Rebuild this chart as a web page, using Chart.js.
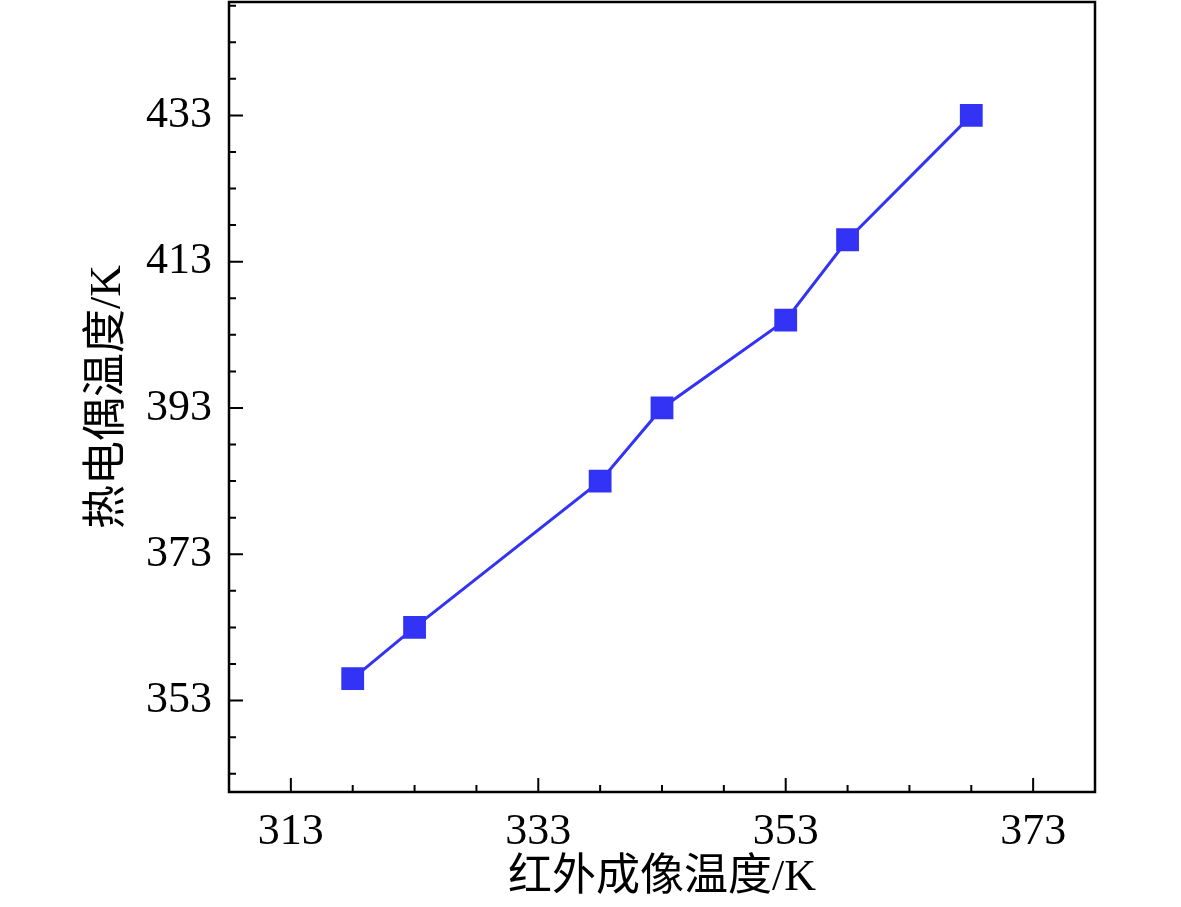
<!DOCTYPE html>
<html>
<head>
<meta charset="utf-8">
<script src="https://cdn.jsdelivr.net/npm/chart.js@4.4.0/dist/chart.umd.min.js"></script>
<style>
  html, body { margin: 0; padding: 0; background: #fff; }
  #wrap { width: 1181px; height: 907px; }
</style>
</head>
<body>
<div id="wrap"><canvas id="chart" width="1181" height="907"></canvas></div>
<script>
// Infrared imaging temperature (x) vs thermocouple temperature (y), K
const infraredTemps = [318, 323, 338, 343, 353, 358, 368];
const thermoTemps = [356, 363, 383, 393, 405, 416, 433];

// Tick labels
const xTickLabels = [313, 333, 353, 373];
const yTickLabels = [353, 373, 393, 413, 433];
const minorStep = 5;

const fontFamily = "'Liberation Serif', 'Times New Roman', 'Noto Sans CJK SC', serif";

// Draws the frame and the inward ticks (major + minor) on left and bottom
const frameTicks = {
  id: "frameTicks",
  afterDraw(chart) {
    const { ctx, chartArea: a, scales } = chart;
    const x = scales.x, y = scales.y;
    ctx.save();
    ctx.strokeStyle = "#000";
    ctx.lineWidth = 2;
    ctx.beginPath();
    // minor + major ticks on x axis
    for (let v = xTickLabels[0] - minorStep * 20; v <= x.max; v += minorStep) {
      if (v < x.min) continue;
      const px = x.getPixelForValue(v);
      const len = xTickLabels.includes(v) ? 14 : 7;
      ctx.moveTo(px, a.bottom);
      ctx.lineTo(px, a.bottom - len);
    }
    // minor + major ticks on y axis
    for (let v = yTickLabels[0] - minorStep * 20; v <= y.max; v += minorStep) {
      if (v < y.min) continue;
      const py = y.getPixelForValue(v);
      const len = yTickLabels.includes(v) ? 14 : 7;
      ctx.moveTo(a.left, py);
      ctx.lineTo(a.left + len, py);
    }
    ctx.stroke();
    ctx.lineWidth = 2.5;
    ctx.strokeRect(a.left, a.top, a.right - a.left, a.bottom - a.top);
    ctx.restore();
  },
};

// keep Chart.js from reserving extra room for overhanging tick labels
function noLabelPadding(scale) {
  scale.paddingTop = 0;
  scale.paddingBottom = 0;
  scale.paddingLeft = 0;
  scale.paddingRight = 0;
}

const ctx = document.getElementById("chart").getContext("2d");

new Chart(ctx, {
  type: "line",
  data: {
    datasets: [
      {
        data: infraredTemps.map((t, i) => ({ x: t, y: thermoTemps[i] })),
        borderColor: "#3333F5",
        backgroundColor: "#3333F5",
        borderWidth: 3,
        pointStyle: "rect",
        pointRadius: 14,
        pointHoverRadius: 14,
        tension: 0,
      },
    ],
  },
  options: {
    responsive: false,
    animation: false,
    devicePixelRatio: 1,
    layout: { autoPadding: false, padding: { left: 0, right: 86, top: 2, bottom: 0 } },
    plugins: {
      legend: { display: false },
      tooltip: { enabled: false },
    },
    scales: {
      x: {
        type: "linear",
        min: 308,
        max: 378,
        grid: { display: false, drawTicks: false },
        border: { display: false },
        afterBuildTicks: (scale) => {
          scale.ticks = xTickLabels.map((v) => ({ value: v }));
        },
        afterFit: (scale) => {
          scale.height = 115;
          noLabelPadding(scale);
        },
        ticks: {
          color: "#000",
          padding: 14,
          maxRotation: 0,
          font: { family: fontFamily, size: 44 },
        },
        title: {
          display: true,
          text: "红外成像温度/K",
          color: "#000",
          padding: { top: 0, bottom: 2 },
          font: { family: fontFamily, size: 44 },
        },
      },
      y: {
        type: "linear",
        min: 340.5,
        max: 448.5,
        grid: { display: false, drawTicks: false },
        border: { display: false },
        afterBuildTicks: (scale) => {
          scale.ticks = yTickLabels.map((v) => ({ value: v }));
        },
        afterFit: (scale) => {
          scale.width = 229;
          noLabelPadding(scale);
        },
        ticks: {
          color: "#000",
          padding: 17,
          font: { family: fontFamily, size: 44 },
        },
        title: {
          display: true,
          text: "热电偶温度/K",
          color: "#000",
          padding: { top: 82, bottom: 0 },
          font: { family: fontFamily, size: 44 },
        },
      },
    },
  },
  plugins: [frameTicks],
});
</script>
</body>
</html>
